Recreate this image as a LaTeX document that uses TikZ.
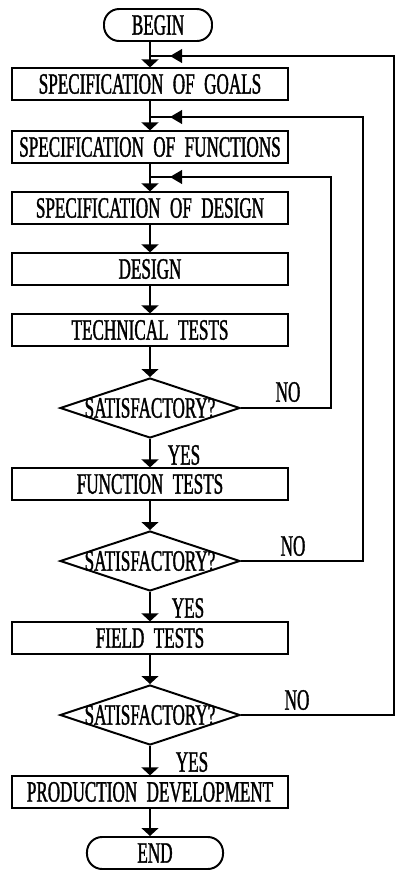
\documentclass[tikz,border=0pt]{standalone}
\usepackage{fontspec}
\setmainfont{Liberation Serif}[FakeStretch=0.58,FakeBold=1.2,WordSpace=2.2]
\usetikzlibrary{arrows.meta,shapes.geometric}
\newcommand\asktext[1]{\smash{\raisebox{-0.24cm}{#1}}}

\begin{document}
\begin{tikzpicture}[x=0.025cm, y=-0.025cm, line width=1.4pt,
  font=\fontsize{21}{22}\selectfont,
  box/.style={draw, rectangle, minimum width=6.9cm, minimum height=0.78cm, inner sep=0pt},
  term/.style={draw, rectangle, rounded corners=0.38cm, minimum height=0.8cm, inner sep=0pt},
  ask/.style={draw, diamond, aspect=3, inner sep=0pt, minimum width=4.5cm, minimum height=1.5cm},
  tag/.style={inner sep=0pt},
  flow/.style={-{Triangle[width=0.42cm,length=0.2cm]}},
  back/.style={-{Triangle[width=0.34cm,length=0.3cm]}}]
\useasboundingbox (0,0) rectangle (400,870);
\node [term, minimum width=2.7cm] (begin) at (158,25) {BEGIN};
\node [box] (goals) at (150,84) {SPECIFICATION OF GOALS};
\node [box] (functions) at (150,147) {SPECIFICATION OF FUNCTIONS};
\node [box] (specdesign) at (150,208) {SPECIFICATION OF DESIGN};
\node [box] (design) at (150,269) {DESIGN};
\node [box] (tech) at (150,330) {TECHNICAL TESTS};
\node [ask] (d1) at (150,408) {\asktext{SATISFACTORY?}};
\node [box] (ftests) at (150,484) {FUNCTION TESTS};
\node [ask] (d2) at (150,561) {\asktext{SATISFACTORY?}};
\node [box] (field) at (150,638) {FIELD TESTS};
\node [ask] (d3) at (150,715) {\asktext{SATISFACTORY?}};
\node [box] (prod) at (150,792) {PRODUCTION DEVELOPMENT};
\node [term, minimum width=3.4cm] (end) at (155,853) {END};
\node [tag] (no1) at (288,392) {NO};
\node [tag] (no2) at (293,546) {NO};
\node [tag] (no3) at (297,700) {NO};
\node [tag] (yes1) at (184,455) {YES};
\node [tag] (yes2) at (188,608) {YES};
\node [tag] (yes3) at (192,762) {YES};
\draw [flow] (goals.north |- begin.south) -- (goals.north);
\draw [flow] (goals) -- (functions);
\draw [flow] (functions) -- (specdesign);
\draw [flow] (specdesign) -- (design);
\draw [flow] (design) -- (tech);
\draw [flow] (tech) -- (d1);
\draw [flow] (d1) -- (ftests);
\draw [flow] (ftests) -- (d2);
\draw [flow] (d2) -- (field);
\draw [flow] (field) -- (d3);
\draw [flow] (d3) -- (prod);
\draw [flow] (prod) -- (prod |- end.north);
\coordinate (c1) at (394,56);
\coordinate (t1) at (170,56);
\coordinate (j1) at (150,56);
\coordinate (c2) at (363,117);
\coordinate (t2) at (170,117);
\coordinate (j2) at (150,117);
\coordinate (c3) at (331,177);
\coordinate (t3) at (170,177);
\coordinate (j3) at (150,177);
\draw (d3.east) -- (c1 |- d3.east) -- (c1) -- (j1);
\draw (d2.east) -- (c2 |- d2.east) -- (c2) -- (j2);
\draw (d1.east) -- (c3 |- d1.east) -- (c3) -- (j3);
\draw [back] (c1) -- (t1);
\draw [back] (c2) -- (t2);
\draw [back] (c3) -- (t3);
\end{tikzpicture}
\end{document}
